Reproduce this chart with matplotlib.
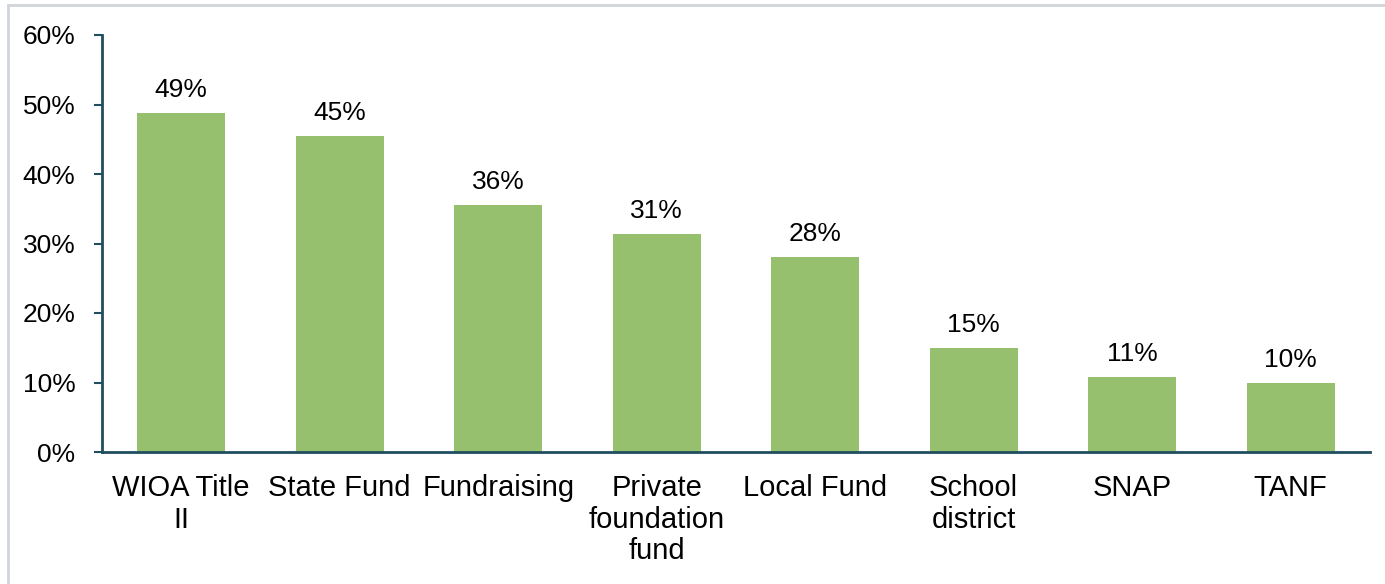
import matplotlib.pyplot as plt
import matplotlib.patches as patches

categories = ["WIOA Title\nII", "State Fund", "Fundraising", "Private\nfoundation\nfund",
              "Local Fund", "School\ndistrict", "SNAP", "TANF"]
values = [48.8, 45.5, 35.5, 31.4, 28.1, 15.0, 10.8, 9.9]
labels = ["49%", "45%", "36%", "31%", "28%", "15%", "11%", "10%"]

plt.rcParams['font.family'] = ['Liberation Sans', 'DejaVu Sans']

fig = plt.figure(figsize=(13.85, 5.84), dpi=100)
ax = fig.add_axes([102/1385, 1 - 452/584, (1370 - 102)/1385, (452 - 35)/584])

# light grey frame around the chart area
fig.patches.append(patches.Rectangle((8/1385, -0.1), 1.2, 1.1 - 5/584, transform=fig.transFigure,
                                     fill=False, edgecolor='#D0D5DA', linewidth=2))

x = range(len(categories))
bars = ax.bar(x, values, width=0.555, color='#97C06E', zorder=2)

for xi, v, lab in zip(x, values, labels):
    ax.text(xi, v + 1.6, lab, ha='center', va='bottom', fontsize=19, color='black')

axis_col = '#1F4E5F'
ax.set_xlim(-0.5, 7.5)
ax.set_ylim(0, 60)
ax.set_yticks(range(0, 61, 10))
ax.set_yticklabels([f"{t}%" for t in range(0, 61, 10)], fontsize=19)
ax.set_xticks(list(x))
ax.set_xticklabels(categories, fontsize=21, linespacing=1.15)
ax.tick_params(axis='x', length=0, pad=16)
ax.tick_params(axis='y', length=6, width=1.5, color=axis_col, direction='out', pad=13)

for s in ['top', 'right']:
    ax.spines[s].set_visible(False)
for s in ['left', 'bottom']:
    ax.spines[s].set_color(axis_col)
    ax.spines[s].set_linewidth(2)

fig.savefig('out.png', dpi=100)
